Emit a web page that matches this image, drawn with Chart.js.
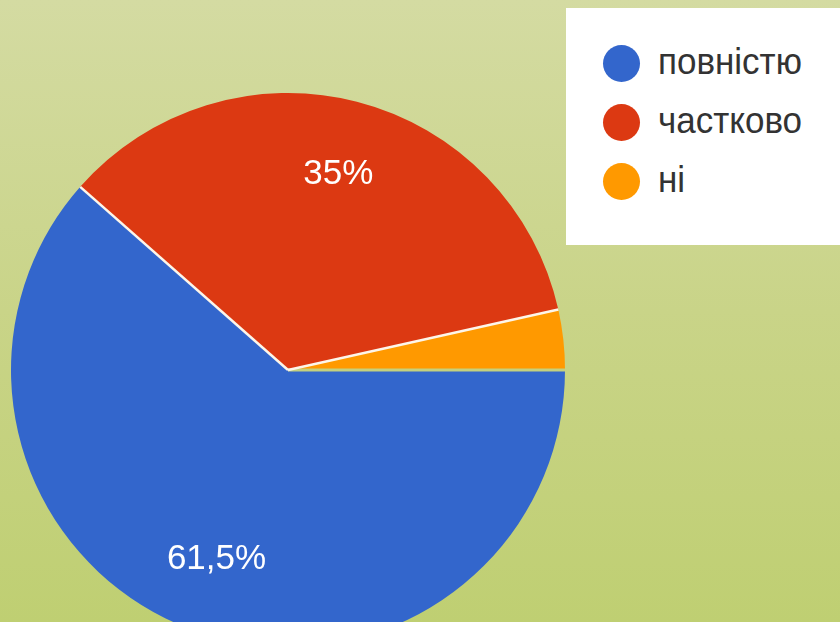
<!DOCTYPE html>
<html lang="uk">
<head>
  <meta charset="UTF-8" />
  <title>Діаграма</title>
  <script src="https://cdn.jsdelivr.net/npm/chart.js"></script>
  <style>
    * { box-sizing: border-box; }
    html, body {
      margin: 0;
      width: 840px;
      height: 622px;
      overflow: hidden;
    }
    body {
      position: relative;
      font-family: 'Liberation Sans', Arial, sans-serif;
      background: linear-gradient(to bottom, #d4dba2 0%, #c9d488 50%, #bfcf72 100%);
    }
    .pie-wrap {
      position: absolute;
      left: -2px;
      top: 80px;
      width: 580px;
      height: 580px;
    }
    .legend {
      position: absolute;
      left: 566px;
      top: 8px;
      width: 274px;
      height: 237px;
      background: #fff;
    }
    .legend .item {
      position: absolute;
      left: 37px;
      display: flex;
      align-items: center;
      height: 40px;
    }
    .legend .dot {
      width: 37px;
      height: 37px;
      border-radius: 50%;
      margin-right: 18px;
    }
    .legend .txt {
      font-size: 35px;
      color: #333;
      transform: scaleY(1.08);
      margin-top: -4px;
    }
  </style>
</head>
<body>
  <div class="pie-wrap"><canvas id="pie"></canvas></div>
  <div class="legend" id="legend"></div>

  <script>
    const labels = ['повністю', 'частково', 'ні'];
    const values = [61.5, 35, 3.5];
    const colors = ['#3366cc', '#dc3912', '#ff9900'];

    // legend box, built from the same arrays
    const legendEl = document.getElementById('legend');
    labels.forEach((name, i) => {
      const row = document.createElement('div');
      row.className = 'item';
      row.style.top = (35 + i * 59) + 'px';
      row.innerHTML = '<div class="dot" style="background:' + colors[i] + '"></div><span class="txt">' + name + '</span>';
      legendEl.appendChild(row);
    });

    const fmt = v => String(v).replace('.', ',') + '%';

    // separators + percentage labels drawn on top of the arcs
    const sliceDecor = {
      id: 'sliceDecor',
      afterDatasetsDraw(chart) {
        const ctx = chart.ctx;
        const arcs = chart.getDatasetMeta(0).data;
        const total = values.reduce((a, b) => a + b, 0);
        ctx.save();
        arcs.forEach((arc, i) => {
          const { x, y, startAngle, outerRadius } = arc.getProps(['x', 'y', 'startAngle', 'outerRadius'], true);
          ctx.beginPath();
          ctx.moveTo(x, y);
          ctx.lineTo(x + Math.cos(startAngle) * outerRadius, y + Math.sin(startAngle) * outerRadius);
          ctx.strokeStyle = i === 0 ? '#c4d07e' : '#fdf6ea';
          ctx.lineWidth = i === 0 ? 3 : 2.5;
          ctx.stroke();
        });
        ctx.fillStyle = '#ffffff';
        ctx.font = '35px "Liberation Sans", Arial, sans-serif';
        ctx.textAlign = 'center';
        ctx.textBaseline = 'middle';
        arcs.forEach((arc, i) => {
          if (values[i] / total < 0.05) return;
          const { x, y, startAngle, endAngle, outerRadius } = arc.getProps(['x', 'y', 'startAngle', 'endAngle', 'outerRadius'], true);
          const mid = (startAngle + endAngle) / 2;
          const d = outerRadius * 0.73;
          ctx.fillText(fmt(values[i]), x + Math.cos(mid) * d, y + Math.sin(mid) * d);
        });
        ctx.restore();
      }
    };

    new Chart(document.getElementById('pie'), {
      type: 'pie',
      data: {
        labels: labels,
        datasets: [{
          data: values,
          backgroundColor: colors,
          borderWidth: 0
        }]
      },
      options: {
        responsive: true,
        maintainAspectRatio: false,
        animation: false,
        rotation: 90,
        radius: 277,
        layout: { padding: 0 },
        plugins: {
          legend: { display: false },
          tooltip: { enabled: false }
        }
      },
      plugins: [sliceDecor]
    });
  </script>
</body>
</html>
